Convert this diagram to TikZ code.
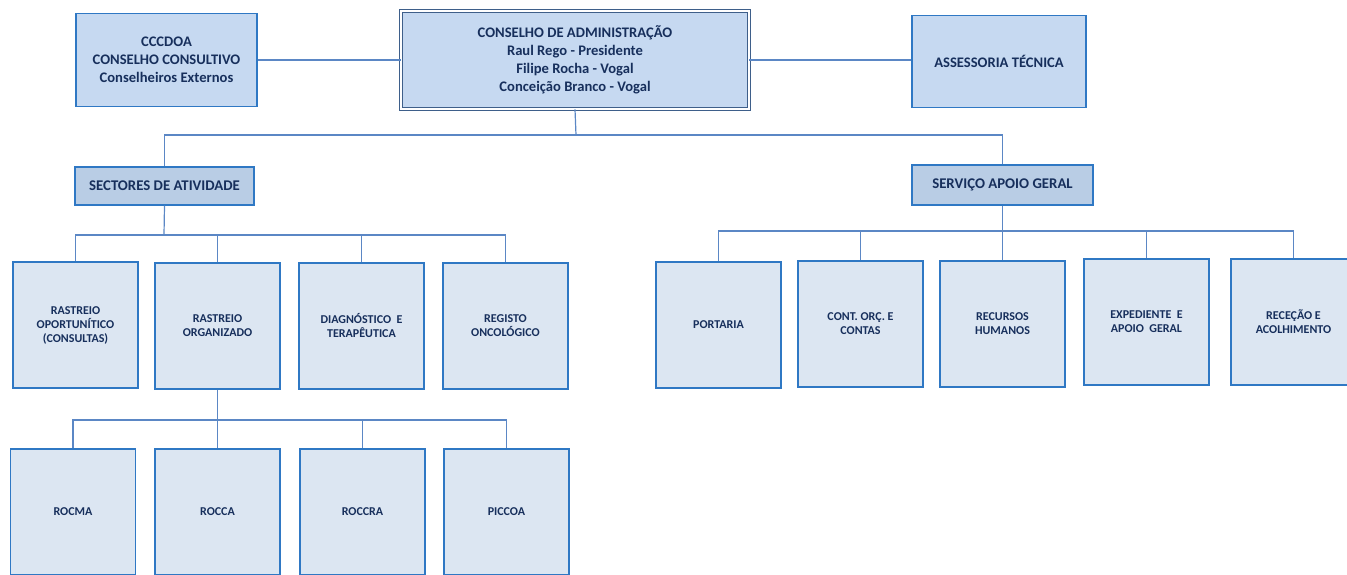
\documentclass[tikz,border=0pt]{standalone}
\usepackage{fontspec}
\setmainfont{Carlito}
\definecolor{topfill}{HTML}{C6D9F1}
\definecolor{secfill}{HTML}{B9CDE5}
\definecolor{leaffill}{HTML}{DCE6F2}
\definecolor{bordc}{HTML}{2F78C4}
\definecolor{cabord}{HTML}{3E5F8A}
\definecolor{txtc}{HTML}{172F5C}
\definecolor{linec}{HTML}{5B87C5}
\tikzset{
  box/.style={rectangle, draw=bordc, line width=1.3pt, text=txtc, align=center, inner sep=0pt, font=\bfseries},
  topbox/.style={box, fill=topfill, font=\fontsize{14.6}{18}\selectfont\bfseries},
  secbox/.style={box, fill=secfill, font=\fontsize{14.8}{18}\selectfont\bfseries},
  leafbox/.style={box, fill=leaffill, minimum width=125pt, minimum height=126pt, font=\fontsize{12}{14}\selectfont\bfseries},
  conn/.style={draw=linec, line width=1.2pt},
}
\begin{document}
\begin{tikzpicture}[x=1pt,y=-1pt]
\useasboundingbox (0,0) rectangle (1347,575);
\clip (0,0) rectangle (1347,575);
% top row
\node[topbox, minimum width=181pt, minimum height=93pt] (cc) at (166.5,60) {CCCDOA\\CONSELHO CONSULTIVO\\Conselheiros Externos};
\node[topbox, draw=cabord, line width=0.9pt, double=white, double distance=1.6pt, minimum width=348pt, minimum height=98pt] (ca) at (575,60) {CONSELHO DE ADMINISTRAÇÃO\\Raul Rego - Presidente\\Filipe Rocha - Vogal\\Conceição Branco - Vogal};
\node[topbox, minimum width=174pt, minimum height=92pt] (at) at (999,61.5) {ASSESSORIA TÉCNICA};
% second row
\node[secbox, minimum width=179pt, minimum height=38pt] (sa) at (164.5,186) {SECTORES DE ATIVIDADE};
\node[secbox, minimum width=181pt, minimum height=40pt] (sg) at (1002.5,185) {SERVIÇO APOIO GERAL};
% sector leaves
\node[leafbox] (l1) at (75.5,325) {RASTREIO\\OPORTUNÍTICO\\(CONSULTAS)};
\node[leafbox] (l2) at (217.5,326) {RASTREIO\\ORGANIZADO};
\node[leafbox] (l3) at (361.5,326) {DIAGNÓSTICO\ \ E\\TERAPÊUTICA};
\node[leafbox] (l4) at (505.5,326) {REGISTO\\ONCOLÓGICO};
% service leaves
\node[leafbox] (s1) at (718.5,325) {PORTARIA};
\node[leafbox] (s2) at (860.5,324) {CONT.\ ORÇ.\ E\\CONTAS};
\node[leafbox] (s3) at (1002.5,324) {RECURSOS\\HUMANOS};
\node[leafbox] (s4) at (1146.5,322) {EXPEDIENTE\ \ E\\APOIO\ \ GERAL};
\node[leafbox] (s5) at (1293.5,322) {RECEÇÃO E\\ACOLHIMENTO};
% ROC leaves
\node[leafbox] (r1) at (73,512) {ROCMA};
\node[leafbox] (r2) at (217.5,512) {ROCCA};
\node[leafbox] (r3) at (362.5,512) {ROCCRA};
\node[leafbox] (r4) at (506.5,512) {PICCOA};
% bus coordinates
\coordinate (b0) at (576,135);
\coordinate (b1) at (164,235);
\coordinate (b2) at (1002,231);
\coordinate (b3) at (218,420);
% connectors
\path[conn] (cc.east) -- (cc.east -| ca.west);
\path[conn] (ca.east) -- (ca.east -| at.west);
\path[conn] (ca.south) -- (b0);
\path[conn] (sa.north) |- (b0) -| (sg.north);
\path[conn] (sa.south) -- (b1);
\path[conn] (l1.north) |- (b1) -| (l4.north);
\path[conn] (l2.north) -- (l2.north |- b1);
\path[conn] (l3.north) -- (l3.north |- b1);
\path[conn] (sg.south) -- (s3.north);
\path[conn] (s1.north) |- (b2) -| (s5.north);
\path[conn] (s2.north) -- (s2.north |- b2);
\path[conn] (s4.north) -- (s4.north |- b2);
\path[conn] (l2.south) -- (r2.north);
\path[conn] (r1.north) |- (b3) -| (r4.north);
\path[conn] (r3.north) -- (r3.north |- b3);
\end{tikzpicture}
\end{document}
